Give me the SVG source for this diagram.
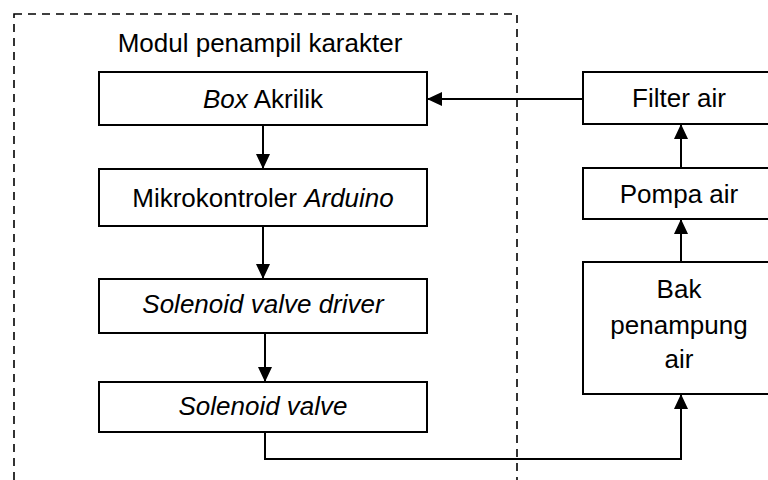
<svg xmlns="http://www.w3.org/2000/svg" width="768" height="480" viewBox="0 0 768 480">
  <defs>
    <marker id="arrow" viewBox="0 0 15 14" refX="15" refY="7" markerWidth="15" markerHeight="14" markerUnits="userSpaceOnUse" orient="auto">
      <path d="M0,0 L15,7 L0,14 Z" fill="#000"/>
    </marker>
    <style>
      .box { fill: #fff; stroke: #000; stroke-width: 2; }
      .frame { fill: none; stroke: #000; stroke-width: 1.6; stroke-dasharray: 8 6; }
      .lbl { font-family: "Liberation Sans", Arial, sans-serif; font-size: 26px; fill: #000; text-anchor: middle; }
      .it { font-style: italic; }
      .wire { fill: none; stroke: #000; stroke-width: 2; }
    </style>
  </defs>
  <rect width="768" height="480" fill="#fff"/>

  <!-- module boundary -->
  <g id="module">
    <rect class="frame" x="14" y="14" width="503" height="500"/>
    <text class="lbl" x="260" y="52">Modul penampil karakter</text>
  </g>

  <g id="box-akrilik">
    <rect class="box" x="99" y="72" width="328" height="53"/>
    <text class="lbl" x="263" y="108"><tspan class="it">Box</tspan> Akrilik</text>
  </g>

  <g id="mikrokontroler">
    <rect class="box" x="99" y="169" width="328" height="57"/>
    <text class="lbl" x="263" y="207">Mikrokontroler <tspan class="it">Arduino</tspan></text>
  </g>

  <g id="driver">
    <rect class="box" x="99" y="279" width="328" height="54"/>
    <text class="lbl it" x="263" y="313">Solenoid valve driver</text>
  </g>

  <g id="valve">
    <rect class="box" x="99" y="382" width="328" height="50"/>
    <text class="lbl it" x="263" y="415">Solenoid valve</text>
  </g>

  <g id="filter">
    <rect class="box" x="583" y="72" width="192" height="52"/>
    <text class="lbl" x="679" y="107">Filter air</text>
  </g>

  <g id="pompa">
    <rect class="box" x="583" y="168" width="192" height="51"/>
    <text class="lbl" x="679" y="203">Pompa air</text>
  </g>

  <g id="bak">
    <rect class="box" x="583" y="262" width="192" height="132"/>
    <text class="lbl" x="679" y="298">Bak</text>
    <text class="lbl" x="679" y="334">penampung</text>
    <text class="lbl" x="679" y="368">air</text>
  </g>

  <g id="connectors">
    <line class="wire" x1="263" y1="125" x2="263" y2="169" marker-end="url(#arrow)"/>
    <line class="wire" x1="263" y1="226" x2="263" y2="279" marker-end="url(#arrow)"/>
    <line class="wire" x1="265" y1="333" x2="265" y2="382" marker-end="url(#arrow)"/>
    <polyline class="wire" points="265,432 265,459 681,459 681,394" marker-end="url(#arrow)"/>
    <line class="wire" x1="681" y1="262" x2="681" y2="219" marker-end="url(#arrow)"/>
    <line class="wire" x1="681" y1="168" x2="681" y2="124" marker-end="url(#arrow)"/>
    <line class="wire" x1="583" y1="99" x2="427" y2="99" marker-end="url(#arrow)"/>
  </g>
</svg>
